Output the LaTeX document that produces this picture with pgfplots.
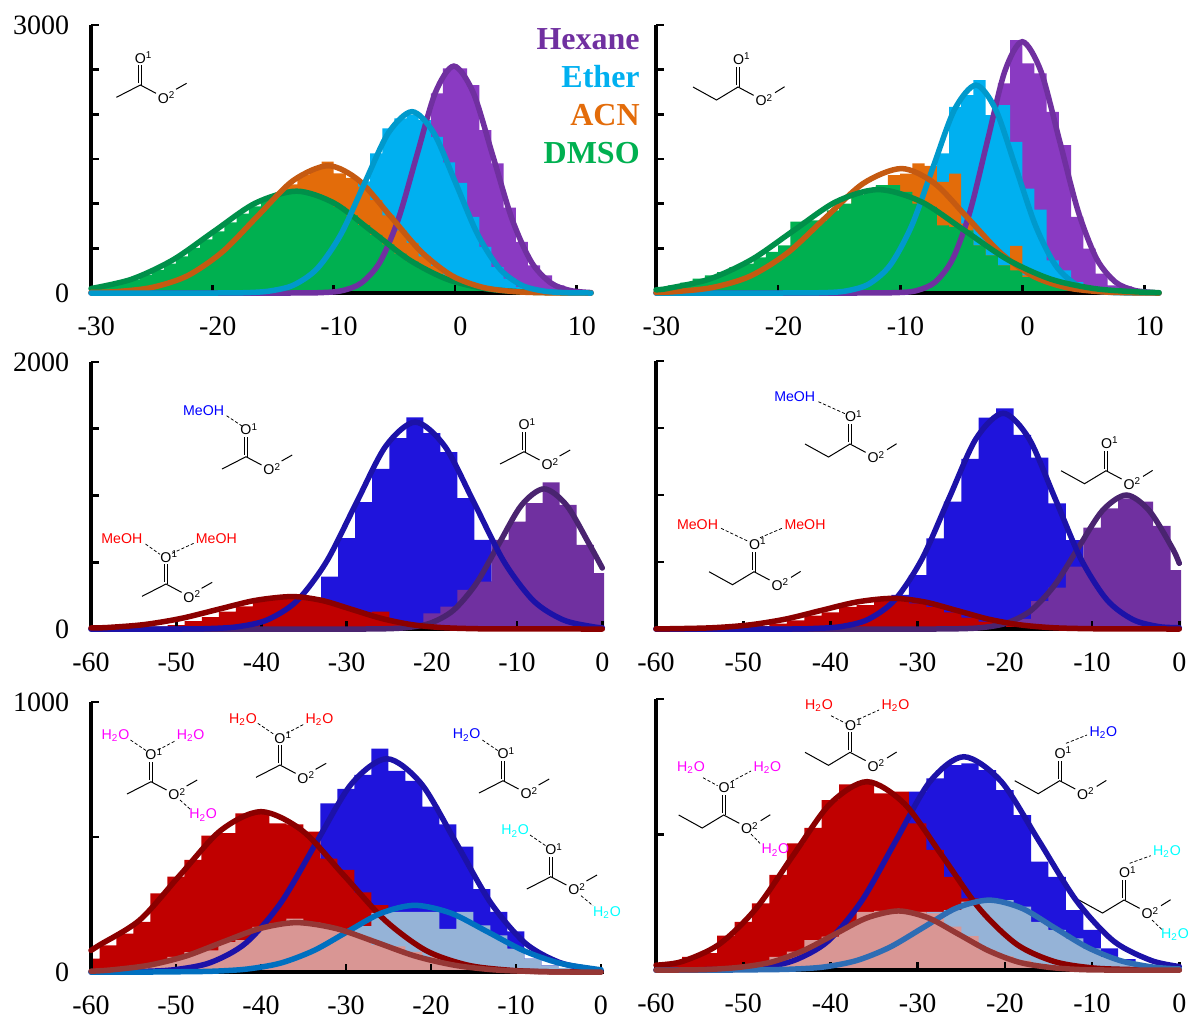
\documentclass[border=0pt]{standalone}
\usepackage{fontspec}
\usepackage{pgfplots}
\pgfplotsset{compat=1.18}
\setmainfont{Liberation Serif}
\newfontfamily\ar{Liberation Sans}
\definecolor{hexF}{HTML}{8A3AC2}\definecolor{hexL}{HTML}{7030A0}
\definecolor{ethF}{HTML}{00B0F0}\definecolor{ethL}{HTML}{0099CC}
\definecolor{acnF}{HTML}{E36C0A}\definecolor{acnL}{HTML}{C55A11}
\definecolor{dmsF}{HTML}{00B050}\definecolor{dmsL}{HTML}{00904A}
\definecolor{bluF}{HTML}{1F14DC}\definecolor{bluL}{HTML}{1C12A8}
\definecolor{purF}{HTML}{7030A0}\definecolor{purL}{HTML}{4A2470}
\definecolor{redF}{HTML}{C00000}\definecolor{redL}{HTML}{8B0000}
\definecolor{pnkF}{HTML}{D99694}\definecolor{pnkL}{HTML}{953735}
\definecolor{lbuF}{HTML}{95B3D7}\definecolor{lbuL}{HTML}{0070C0}\definecolor{lbuM}{HTML}{2E6DB4}
\definecolor{magT}{HTML}{FF00FF}\definecolor{cyaT}{HTML}{00FFFF}
\pgfplotsset{
 panel/.style={scale only axis, axis lines=left, axis line style={-,line width=1.9pt,black},
  set layers=axis on top, clip=false, tick align=inside, major tick length=4.6pt,
  tick style={line width=1.6pt,black}, minor tick num=0, anchor=south west,
  tick label style={font=\fontsize{16.8}{18}\selectfont,inner sep=0pt},
  xticklabel style={anchor=north,yshift=-14.4pt},
  yticklabel style={anchor=east,xshift=-13pt}},
 toprow/.style={panel,xmin=-30,xmax=11.2,ymin=0,ymax=3000,xtick={-30,-20,-10,0,10},xticklabels={-30,-20,-10,0,10},
  ytick={0,500,1000,1500,2000,2500,3000},xticklabel style={xshift=3.2pt}},
 midrow/.style={panel,xmin=-60,xmax=0.2,ymin=0,ymax=2000,xtick={-60,-50,-40,-30,-20,-10,0},xticklabels={-60,-50,-40,-30,-20,-10,0},
  ytick={0,500,1000,1500,2000}},
 botrow/.style={panel,xmin=-60,xmax=0.3,ymin=0,ymax=1000,xtick={-60,-50,-40,-30,-20,-10,0},xticklabels={-60,-50,-40,-30,-20,-10,0},
  ytick={0,500,1000}},
 curve/.style={smooth,no markers,line width=3.3pt,line cap=round,color=#1,/pgfplots/on layer=axis foreground}
}
\newcommand{\hist}[2]{\addplot[const plot,fill=#1,draw=none,no markers] coordinates {#2} \closedcycle;}
\newcommand{\lab}[4]{\node[text=#3,font=\ar\fontsize{8.5}{10}\selectfont,inner sep=0pt] at (#1,#2) {#4};}
\newcommand{\hb}[4]{\draw[black,line width=0.45pt,dash pattern=on 1.9pt off 1.2pt] (#1,#2)--(#3,#4);}
\newcommand{\HtO}{H\textsubscript{2}O}
\newcommand{\oxy}[3]{\node[text=black,font=\ar\fontsize{8.5}{10}\selectfont,inner sep=0pt] at (#1,#2) {O\rlap{\textsuperscript{#3}}};}
\newcommand{\acet}[2]{\begin{scope}[shift={(#1,#2)},line width=0.6pt]
 \draw (-24,12.3)--(0,0)--(15.6,8.3);
 \draw (-1.5,-2)--(-1.5,-20) (1.5,0)--(1.5,-20);
 \draw (35.6,4.3)--(46.2,-1.7);
 \oxy{0}{-27.7}{1}\oxy{23}{12.3}{2}\end{scope}}
\newcommand{\prop}[2]{\begin{scope}[shift={(#1,#2)},line width=0.6pt]
 \draw (-45,0)--(-21.5,13)--(0,0)--(15.6,8.3);
 \draw (-1.5,-2)--(-1.5,-20) (1.5,0)--(1.5,-20);
 \draw (37,5.7)--(46.6,-0.3);
 \oxy{0.5}{-28}{1}\oxy{23}{13}{2}\end{scope}}
\begin{document}
\begin{tikzpicture}
% ---------- top left
\begin{axis}[toprow,at={({91*0.6pt},{-293*0.6pt})},width=300pt,height=160.8pt,yticklabels={0,,,,,,3000}]
\hist{hexF}{(-10,10)(-9,30)(-8,86)(-7,206)(-6,426)(-5,775)(-4,1250)(-3,1790)(-2,2234)(-1,2514)(1,2327)(2,1823)(3,1450)(4,956)(5,572)(6,310)(7,198)(8,85)(9,30)(10,0)}
\hist{ethF}{(-15,25)(-14,60)(-13,130)(-12,240)(-11,400)(-10,620)(-9,880)(-8,1250)(-7,1562)(-6,1842)(-5,1954)(-4,1991)(-3,1935)(-2,1748)(-1,1461)(0,1233)(1,852)(2,516)(3,291)(4,160)(5,67)(6,30)(7,10)(8,0)}
\hist{acnF}{(-26,50)(-25,76)(-24,110)(-23,160)(-22,225)(-21,310)(-20,410)(-19,530)(-18,660)(-17,800)(-16,950)(-15,1090)(-14,1215)(-13,1320)(-12,1395)(-11,1470)(-10,1340)(-9,1290)(-8,1190)(-7,1040)(-6,870)(-5,700)(-4,560)(-3,410)(-2,300)(-1,205)(0,135)(1,90)(2,55)(3,30)(4,15)(5,0)}
\hist{dmsF}{(-30,55)(-29,80)(-28,110)(-27,150)(-26,200)(-25,260)(-24,330)(-23,410)(-22,505)(-21,600)(-20,690)(-19,790)(-18,890)(-17,970)(-16,1045)(-15,1100)(-14,1130)(-13,1135)(-12,1100)(-11,1045)(-10,965)(-9,870)(-8,760)(-7,650)(-6,545)(-5,440)(-4,350)(-3,270)(-2,205)(-1,150)(0,105)(1,75)(2,50)(3,34)(4,22)(5,14)(6,8)(7,0)}
\addplot[curve=hexL] coordinates {(-30,0)(-14,0)(-10.78,6)(-9.25,28)(-7.73,112)(-6.2,344)(-4.68,825)(-3.15,1541)(-1.63,2242)(-0.1,2540)(1.5,2242)(3.1,1541)(4.7,825)(6.3,344)(7.9,112)(9.5,28)(11.2,5)};
\addplot[curve=dmsL] coordinates {(-30,50)(-26.66,154)(-23.26,370)(-19.86,691)(-16.46,1006)(-13.06,1140)(-9.96,1006)(-6.86,691)(-3.76,370)(-0.66,154)(2.44,50)(5.54,13)(8.64,3)(11.2,0)};
\addplot[curve=acnL] coordinates {(-30,6)(-27.85,16)(-24.95,63)(-22.05,193)(-19.15,463)(-16.25,864)(-13.35,1258)(-10.45,1425)(-7.9,1258)(-5.35,864)(-2.8,463)(-0.25,193)(2.3,63)(4.85,16)(7.4,3)(11.2,0)};
\addplot[curve=ethL] coordinates {(-30,0)(-20,0)(-17.2,4)(-15.25,23)(-13.3,89)(-11.35,275)(-9.4,659)(-7.45,1231)(-5.5,1791)(-3.55,2030)(-1.75,1791)(0.05,1231)(1.85,659)(3.65,275)(5.45,89)(7.25,23)(9.05,4)(11.2,0)};
\end{axis}
% ---------- top right
\begin{axis}[toprow,at={({656*0.6pt},{-293*0.6pt})},width=301.8pt,height=160.8pt,yticklabels={}]
\hist{hexF}{(-10,10)(-9,30)(-8,80)(-7,200)(-6,450)(-5,800)(-4,1250)(-3,1700)(-2,2346)(-1,2832)(0,2570)(1,2458)(2,2029)(3,1655)(4,852)(5,497)(6,217)(7,86)(8,75)(9,30)(10,0)}
\hist{ethF}{(-14,20)(-13,50)(-12,110)(-11,220)(-10,360)(-9,620)(-8,1000)(-7,1562)(-6,2085)(-5,2215)(-4,2383)(-3,1991)(-2,2103)(-1,1692)(0,1169)(1,934)(2,366)(3,254)(4,123)(5,67)(6,30)(7,10)(8,0)}
\hist{acnF}{(-27,20)(-26,40)(-25,70)(-24,100)(-23,150)(-22,200)(-21,300)(-20,420)(-19,500)(-18,600)(-17,760)(-16,800)(-15,900)(-14,1100)(-13,1050)(-12,1200)(-11,1319)(-10,1337)(-9,1450)(-8,1423)(-7,1244)(-6,1337)(-5,777)(-4,534)(-3,422)(-2,310)(-1,527)(0,198)(1,160)(2,120)(3,60)(4,30)(5,15)(6,0)}
\hist{dmsF}{(-30,67)(-29,85)(-28,115)(-27,160)(-26,198)(-25,235)(-24,290)(-23,330)(-22,400)(-21,460)(-20,534)(-19,800)(-18,814)(-17,814)(-16,926)(-15,1001)(-14,1095)(-13,1150)(-12,1207)(-11,1207)(-10,1132)(-9,1001)(-8,964)(-7,758)(-6,740)(-5,700)(-4,534)(-3,422)(-2,310)(-1,254)(0,179)(1,150)(2,120)(3,90)(4,60)(5,40)(6,25)(7,15)(8,8)(9,0)}
\addplot[curve=hexL] coordinates {(-30,0)(-14,0)(-9.98,6)(-8.55,31)(-7.13,123)(-5.7,381)(-4.28,913)(-2.85,1706)(-1.43,2482)(0,2813)(1.53,2482)(3.05,1706)(4.58,913)(6.1,381)(7.63,123)(9.15,31)(10.68,6)(11.2,0)};
\addplot[curve=ethL] coordinates {(-30,0)(-20,0)(-16.05,5)(-14.3,26)(-12.55,102)(-10.8,315)(-9.05,756)(-7.3,1411)(-5.55,2054)(-3.8,2327)(-2.18,2054)(-0.55,1411)(1.08,756)(2.7,315)(4.33,102)(5.95,26)(7.58,5)(11.2,0)};
\addplot[curve=acnL] coordinates {(-30,6)(-28.5,15)(-25.4,61)(-22.3,188)(-19.2,452)(-16.1,845)(-13,1229)(-9.9,1393)(-7.2,1229)(-4.5,845)(-1.8,452)(0.9,188)(3.6,61)(6.3,15)(9,3)(11.2,0)};
\addplot[curve=dmsL] coordinates {(-30,36)(-29.05,51)(-25.6,157)(-22.15,376)(-18.7,702)(-15.25,1022)(-11.8,1158)(-8.28,1022)(-4.75,702)(-1.23,376)(2.3,157)(5.83,51)(9.35,13)(11.2,5)};
\end{axis}
% ---------- middle left
\begin{axis}[midrow,at={({91*0.6pt},{-629*0.6pt})},width=307.8pt,height=160.2pt,yticklabels={0,,,,2000}]
\hist{bluF}{(-39,25)(-37,70)(-35,190)(-33,392)(-31,680)(-29,950)(-27,1200)(-25,1430)(-23,1585)(-21,1468)(-19,1325)(-17,980)(-15,668)(-13,355)(-11,180)(-9,80)(-7,30)(-5,0)}
\hist{purF}{(-25,10)(-23,30)(-21,118)(-19,168)(-17,293)(-15,355)(-13,668)(-11,805)(-9,943)(-7,1098)(-5,930)(-3,630)(-1,418)(0.2,0)}
\hist{redF}{(-51,30)(-49,60)(-47,90)(-45,130)(-43,170)(-41,210)(-39,240)(-37,243)(-35,235)(-33,200)(-31,160)(-29,125)(-27,130)(-25,60)(-23,40)(-21,20)(-19,10)(-17,0)}
\addplot[curve=purL] coordinates {(-60,0)(-30,0)(-25.39,2)(-22.74,12)(-20.09,46)(-17.44,142)(-14.79,341)(-12.14,637)(-9.49,927)(-6.84,1050)(-4.19,927)(-1.54,637)(0,457)};
\addplot[curve=bluL] coordinates {(-60,0)(-50,0)(-46.28,3)(-42.8,17)(-39.33,68)(-35.85,210)(-32.38,503)(-28.9,940)(-25.43,1368)(-21.95,1550)(-18.47,1368)(-15,940)(-11.52,503)(-8.05,210)(-4.57,68)(-1.1,17)(0,10)};
\addplot[curve=redL] coordinates {(-60,8)(-58.15,11)(-53.8,33)(-49.45,79)(-45.1,147)(-40.75,214)(-36.4,243)(-32.9,214)(-29.4,147)(-25.9,79)(-22.4,33)(-18.9,11)(-15.4,3)(-11.9,1)(0,0)};
\end{axis}
% ---------- middle right
\begin{axis}[midrow,at={({656*0.6pt},{-629*0.6pt})},width=315pt,height=160.8pt,yticklabels={}]
\hist{bluF}{(-41,15)(-39,40)(-37,80)(-35,150)(-33,254)(-31,403)(-29,677)(-27,950)(-25,1269)(-23,1577)(-21,1647)(-19,1448)(-17,1279)(-15,938)(-13,664)(-11,465)(-9,304)(-7,150)(-5,60)(-3,20)(-1,0)}
\hist{purF}{(-23,10)(-21,30)(-19,75)(-17,209)(-15,308)(-13,465)(-11,756)(-9,900)(-7,975)(-5,950)(-3,769)(-1,440)(0.2,0)}
\hist{redF}{(-51,10)(-49,22)(-47,40)(-45,65)(-43,100)(-41,125)(-39,165)(-37,179)(-35,230)(-33,225)(-31,191)(-29,165)(-27,125)(-25,85)(-23,55)(-21,35)(-19,20)(-17,10)(-15,0)}
\addplot[curve=purL] coordinates {(-60,0)(-30,0)(-25.32,2)(-22.57,11)(-19.82,44)(-17.07,135)(-14.32,325)(-11.57,607)(-8.82,883)(-6.07,1000)(-3.44,883)(-0.82,607)(0,490)};
\addplot[curve=bluL] coordinates {(-60,0)(-45,0)(-41.9,4)(-38.8,18)(-35.7,71)(-32.6,218)(-29.5,523)(-26.4,976)(-23.3,1421)(-20.2,1610)(-17.23,1421)(-14.25,976)(-11.28,523)(-8.3,218)(-5.33,71)(-2.35,18)(0,10)};
\addplot[curve=redL] coordinates {(-60,1)(-57.45,3)(-53.35,10)(-49.25,31)(-45.15,74)(-41.05,139)(-36.95,202)(-32.85,229)(-29.2,202)(-25.55,139)(-21.9,74)(-18.25,31)(-14.6,10)(-10.95,3)(-7.3,1)(0,0)};
\end{axis}
% ---------- bottom left
\begin{axis}[botrow,at={({91*0.6pt},{-972*0.6pt})},width=307.5pt,height=162pt,yticklabels={0,,1000}]
\hist{bluF}{(-47,20)(-45,40)(-43,90)(-41,150)(-39,250)(-37,350)(-35,420)(-33,625)(-31,678)(-29,730)(-27,827)(-25,745)(-23,708)(-21,613)(-19,547)(-17,464)(-15,307)(-13,223)(-11,151)(-9,50)(-7,25)(-5,10)(-3,0)}
\hist{redF}{(-60,50)(-59,99)(-57,142)(-55,186)(-53,291)(-51,353)(-49,415)(-47,505)(-45,514)(-43,588)(-41,594)(-39,551)(-37,547)(-35,520)(-33,420)(-31,378)(-29,295)(-27,248)(-25,200)(-23,130)(-21,80)(-19,50)(-17,25)(-15,10)(-13,0)}
\hist{lbuF}{(-41,10)(-39,20)(-37,40)(-35,60)(-33,90)(-31,125)(-29,170)(-27,219)(-25,223)(-23,223)(-21,223)(-19,160)(-17,223)(-15,173)(-13,136)(-11,87)(-9,50)(-7,25)(-5,15)(-3,5)(-1,0)}
\hist{pnkF}{(-57,12)(-55,20)(-53,31)(-51,56)(-49,74)(-47,80)(-45,111)(-43,118)(-41,167)(-39,179)(-37,198)(-35,183)(-33,165)(-31,150)(-29,130)(-27,100)(-25,95)(-23,75)(-21,55)(-19,40)(-17,28)(-15,18)(-13,10)(-11,5)(-9,0)}
\addplot[curve=bluL] coordinates {(-60,0)(-54.25,2)(-50.1,9)(-45.95,35)(-41.8,107)(-37.65,257)(-33.5,479)(-29.35,697)(-25.2,790)(-21.13,697)(-17.05,479)(-12.98,257)(-8.9,107)(-4.83,35)(-0.75,9)(0,5)};
\addplot[curve=redL] coordinates {(-60,80)(-59,100)(-54.25,193)(-49.5,360)(-44.75,524)(-40,594)(-35.15,524)(-30.3,360)(-25.45,193)(-20.6,80)(-15.75,26)(-10.9,7)(-6.05,1)(0,0)};
\addplot[curve=lbuL] coordinates {(-60,0)(-53.5,0)(-49.55,1)(-45.6,3)(-41.65,11)(-37.7,33)(-33.75,80)(-29.8,150)(-25.85,218)(-21.9,247)(-17.65,218)(-13.4,150)(-9.15,80)(-4.9,33)(-0.65,11)(0,9)};
\addplot[curve=pnkL] coordinates {(-60,3)(-57.55,8)(-53.2,25)(-48.85,59)(-44.5,111)(-40.15,161)(-35.8,183)(-31.15,161)(-26.5,111)(-21.85,59)(-17.2,25)(-12.55,8)(-7.9,2)(-3.25,0)(0,0)};
\end{axis}
% ---------- bottom right
\begin{axis}[botrow,xmax=0.2,at={({656*0.6pt},{-970*0.6pt})},width=315pt,height=162.6pt,yticklabels={}]
\hist{bluF}{(-47,10)(-45,25)(-43,60)(-41,110)(-39,190)(-37,300)(-35,430)(-33,560)(-31,658)(-29,707)(-27,756)(-25,763)(-23,738)(-21,664)(-19,572)(-17,400)(-15,344)(-13,221)(-11,148)(-9,80)(-7,40)(-5,20)(-3,8)(-1,0)}
\hist{redF}{(-60,15)(-59,30)(-57,49)(-55,62)(-53,127)(-51,178)(-49,246)(-47,351)(-45,467)(-43,525)(-41,627)(-39,685)(-37,689)(-35,652)(-33,658)(-31,541)(-29,443)(-27,344)(-25,264)(-23,215)(-21,120)(-19,70)(-17,35)(-15,20)(-13,8)(-11,0)}
\hist{lbuF}{(-39,15)(-37,35)(-35,55)(-33,90)(-31,130)(-29,215)(-27,221)(-25,252)(-23,258)(-21,258)(-19,234)(-17,178)(-15,148)(-13,117)(-11,80)(-9,49)(-7,30)(-5,12)(-3,0)}
\hist{pnkF}{(-53,8)(-51,15)(-49,25)(-47,49)(-45,68)(-43,110)(-41,123)(-39,166)(-37,215)(-35,218)(-33,215)(-31,215)(-29,209)(-27,160)(-25,125)(-23,74)(-21,50)(-19,35)(-17,22)(-15,12)(-13,5)(-11,0)}
\addplot[curve=bluL] coordinates {(-60,0)(-52,2)(-48.1,9)(-44.2,35)(-40.3,106)(-36.4,256)(-32.5,477)(-28.6,695)(-24.7,787)(-20.4,695)(-16.1,477)(-11.8,256)(-7.5,106)(-3.2,35)(0,13)};
\addplot[curve=redL] coordinates {(-60,18)(-57.05,31)(-52.8,94)(-48.55,226)(-44.3,422)(-40.05,613)(-35.8,695)(-31.5,613)(-27.2,422)(-22.9,226)(-18.6,94)(-14.3,31)(-10,8)(-5.7,2)(0,0)};
\addplot[curve=lbuM] coordinates {(-60,0)(-52,0)(-48.4,1)(-44.6,3)(-40.8,11)(-37,35)(-33.2,84)(-29.4,156)(-25.6,228)(-21.8,258)(-18.05,228)(-14.3,156)(-10.55,84)(-6.8,35)(-3.05,11)(0,4)};
\addplot[curve=pnkL] coordinates {(-60,0)(-57.75,0)(-54.1,2)(-50.45,10)(-46.8,29)(-43.15,71)(-39.5,132)(-35.85,192)(-32.2,218)(-28.75,192)(-25.3,132)(-21.85,71)(-18.4,29)(-14.95,10)(-11.5,2)(-8.05,0)(0,0)};
\end{axis}
% ---------- annotations (pixel coordinates of the figure)
\begin{scope}[x=0.6pt,y=-0.6pt]
\foreach \t/\yy/\c in {Hexane/39/hexL,Ether/77/ethF,ACN/115/acnF,DMSO/153/dmsF}{
 \node[anchor=east,text=\c,font=\bfseries\fontsize{19.2}{22}\selectfont,inner sep=0pt] at (640,\yy) {\t};}
\acet{140.4}{85}
\prop{738}{87}
% middle left
\acet{246}{456.7}\lab{203.6}{410.7}{blue}{MeOH}\hb{226.6}{415.7}{242}{426}
\acet{524}{451.7}
\acet{166}{584}\lab{121.8}{538.3}{red}{MeOH}\lab{216.3}{538.3}{red}{MeOH}
\hb{145.5}{544}{160}{554.3}\hb{172}{553.3}{193.7}{543.3}
% middle right
\prop{850}{444}\lab{794.7}{396.7}{blue}{MeOH}\hb{818.4}{401.7}{845.7}{414}
\prop{1106}{470.7}
\prop{754}{571.7}\lab{697.5}{525}{red}{MeOH}\lab{805}{524.3}{red}{MeOH}
\hb{721}{528.3}{749}{541.7}\hb{760}{537.7}{782}{528.3}
% bottom left
\acet{151}{781.7}\lab{115.5}{735.7}{magT}{\HtO}\lab{190.6}{735.7}{magT}{\HtO}\lab{203.2}{815}{magT}{\HtO}
\hb{130.5}{740}{146.3}{750.7}\hb{158}{750}{175}{741}\hb{180}{800}{190}{809}
\acet{280}{765}\lab{243}{719.3}{red}{\HtO}\lab{319.5}{719.3}{red}{\HtO}
\hb{257.8}{723.3}{274}{734.3}\hb{286.7}{733.3}{303.7}{724.3}
\acet{503}{780.7}\lab{466.6}{735}{blue}{\HtO}\hb{482.4}{740}{498}{750.7}
\acet{550.8}{876.7}\lab{515.2}{831}{cyaT}{\HtO}\lab{607}{912.3}{cyaT}{\HtO}
\hb{530}{835}{545.7}{845.7}\hb{581}{895.7}{593}{905.7}
% bottom right
\prop{850}{752.3}\lab{819}{705.7}{red}{\HtO}\lab{895.5}{705.7}{red}{\HtO}
\hb{831}{715.7}{845.7}{723.3}\hb{858.4}{719.3}{879}{710}
\prop{723.7}{815}\lab{691}{767.7}{magT}{\HtO}\lab{767.4}{767.3}{magT}{\HtO}\lab{775.4}{850}{magT}{\HtO}
\hb{703}{777.7}{717.6}{785.7}\hb{731}{781.7}{751}{771}\hb{751}{834}{760}{843.3}
\prop{1059.7}{780.7}\lab{1103.4}{732.3}{blue}{\HtO}\hb{1066}{743.3}{1087}{735}
\prop{1124}{900}\lab{1167}{851.7}{cyaT}{\HtO}\lab{1175}{934.3}{cyaT}{\HtO}
\hb{1129.6}{863.3}{1150.7}{855.7}\hb{1152}{920}{1162.4}{930}
\end{scope}
\pgfresetboundingbox
\path (0,0) rectangle (714.6pt,-611.4pt);
\end{tikzpicture}
\end{document}
